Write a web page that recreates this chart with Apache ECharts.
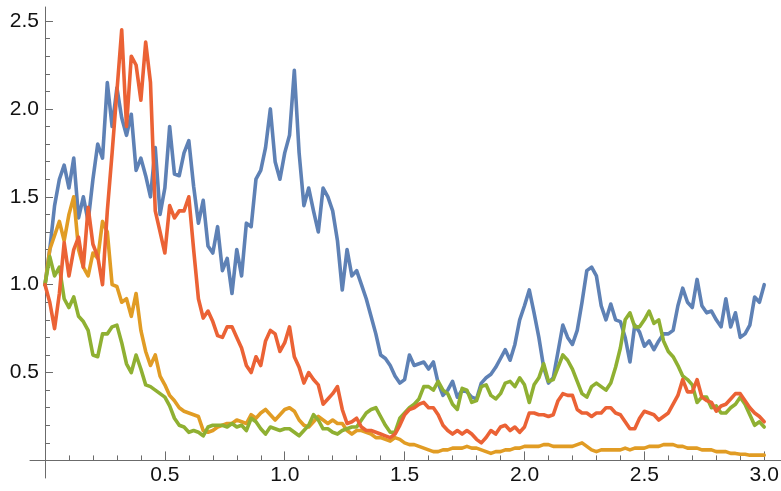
<!DOCTYPE html>
<html>
<head>
<meta charset="utf-8">
<script src="https://cdn.jsdelivr.net/npm/echarts@6/dist/echarts.min.js"></script>
<style>
  html, body { margin: 0; padding: 0; background: #fff; }
  #chart { width: 781px; height: 491px; }
</style>
</head>
<body>
<div id="chart"></div>
<script>
// Four sample paths sampled every 0.02 on t in [0, 3]
const step = 0.02;
const tValues = Array.from({ length: 151 }, (_, i) => Math.round(i * step * 100) / 100);

const pathBlue = [
  1.0, 1.2, 1.45, 1.6, 1.68, 1.55, 1.72, 1.38, 1.5, 1.36,
  1.6, 1.8, 1.72, 2.15, 1.9, 2.12, 1.95, 1.85, 1.97, 1.65,
  1.72, 1.62, 1.5, 1.78, 1.4, 1.55, 1.9, 1.63, 1.62, 1.75,
  1.82, 1.56, 1.35, 1.48, 1.22, 1.18, 1.33, 1.08, 1.15, 0.95,
  1.2, 1.05, 1.35, 1.33, 1.6, 1.65, 1.78, 2.0, 1.7, 1.6,
  1.75, 1.85, 2.22, 1.75, 1.45, 1.55, 1.42, 1.3, 1.55, 1.5,
  1.42, 1.25, 0.97, 1.2, 1.05, 1.08, 1.0, 0.92, 0.82, 0.72,
  0.6, 0.58, 0.54, 0.48, 0.44, 0.46, 0.6, 0.54, 0.55, 0.56,
  0.52, 0.56, 0.44, 0.37, 0.4, 0.45, 0.36, 0.4, 0.39, 0.36,
  0.35, 0.44, 0.47, 0.49, 0.53, 0.58, 0.63, 0.57, 0.66, 0.8,
  0.88, 0.97, 0.84, 0.7, 0.53, 0.44, 0.47, 0.62, 0.77, 0.7,
  0.66, 0.74, 0.9, 1.08, 1.1, 1.05, 0.88, 0.8, 0.89, 0.8,
  0.79, 0.7, 0.56, 0.77, 0.73, 0.65, 0.68, 0.63, 0.68, 0.72,
  0.72, 0.74, 0.88, 0.98, 0.9, 0.87, 1.03, 0.88, 0.84, 0.85,
  0.8, 0.76, 0.92, 0.76, 0.84, 0.7, 0.72, 0.77, 0.93, 0.9,
  1.0
];

const pathOrange = [
  1.0, 1.2, 1.28, 1.36, 1.25, 1.4, 1.5, 1.2, 1.1, 1.05,
  1.18, 1.15, 1.36, 1.3, 1.0, 0.99, 0.9, 0.92, 0.82, 0.95,
  0.74, 0.62, 0.54, 0.6, 0.48, 0.43, 0.37, 0.34, 0.3, 0.28,
  0.27, 0.26, 0.25, 0.17, 0.16, 0.17, 0.19, 0.2, 0.21, 0.21,
  0.23, 0.22, 0.21, 0.26, 0.24, 0.27, 0.29, 0.26, 0.23, 0.26,
  0.29, 0.3, 0.28, 0.23, 0.2, 0.19, 0.22, 0.25, 0.23, 0.21,
  0.23, 0.21, 0.21, 0.17, 0.15, 0.17, 0.17, 0.16, 0.15, 0.13,
  0.13, 0.12, 0.11, 0.13, 0.12, 0.1, 0.09, 0.09, 0.08, 0.07,
  0.06, 0.05, 0.05, 0.06, 0.06, 0.07, 0.07, 0.07, 0.08, 0.07,
  0.07, 0.06, 0.05, 0.04, 0.05, 0.05, 0.06, 0.06, 0.07, 0.07,
  0.08, 0.08, 0.08, 0.08, 0.09, 0.09, 0.08, 0.08, 0.08, 0.08,
  0.08, 0.09, 0.1, 0.08, 0.06, 0.05, 0.06, 0.06, 0.06, 0.06,
  0.06, 0.07, 0.06, 0.07, 0.07, 0.07, 0.08, 0.08, 0.08, 0.09,
  0.09, 0.09, 0.08, 0.08, 0.07, 0.07, 0.07, 0.06, 0.06, 0.06,
  0.05, 0.05, 0.05, 0.04, 0.04, 0.035, 0.035, 0.03, 0.03, 0.03,
  0.03
];

const pathGreen = [
  1.0, 1.16, 1.05, 1.1, 0.92, 0.87, 0.93, 0.82, 0.79, 0.74,
  0.6, 0.59, 0.72, 0.72, 0.76, 0.77, 0.67, 0.55, 0.5, 0.6,
  0.52, 0.43, 0.42, 0.4, 0.38, 0.36, 0.31, 0.24, 0.2, 0.19,
  0.16, 0.17, 0.16, 0.14, 0.19, 0.2, 0.2, 0.2, 0.19, 0.21,
  0.19, 0.2, 0.17, 0.24, 0.22, 0.18, 0.15, 0.19, 0.18, 0.17,
  0.18, 0.18, 0.16, 0.14, 0.17, 0.2, 0.26, 0.23, 0.18, 0.18,
  0.16, 0.15, 0.17, 0.18, 0.19, 0.19, 0.23, 0.27, 0.29, 0.3,
  0.25, 0.2, 0.16, 0.16, 0.24, 0.27, 0.3, 0.32, 0.35, 0.42,
  0.42, 0.4, 0.45, 0.4, 0.38, 0.32, 0.29, 0.41, 0.4, 0.33,
  0.34, 0.42, 0.43, 0.37, 0.35, 0.38, 0.44, 0.45, 0.42, 0.47,
  0.43, 0.33, 0.43, 0.47, 0.55, 0.45, 0.46, 0.53, 0.6, 0.57,
  0.52, 0.45, 0.38, 0.36, 0.42, 0.44, 0.42, 0.4, 0.44, 0.53,
  0.64, 0.8, 0.84, 0.76, 0.76, 0.8, 0.85, 0.78, 0.8, 0.68,
  0.62, 0.59, 0.54, 0.48, 0.46, 0.43, 0.33, 0.36, 0.36, 0.3,
  0.31, 0.27, 0.27, 0.3, 0.32, 0.36, 0.32, 0.26, 0.2, 0.22,
  0.19
];

const pathRed = [
  1.0, 0.9, 0.75, 0.95, 1.24, 1.05, 1.2, 1.27, 1.1, 1.44,
  1.23, 1.16, 1.0, 1.42, 1.75, 2.1, 2.45, 1.9, 2.3, 2.25,
  2.05, 2.38, 2.15, 1.42, 1.3, 1.18, 1.45, 1.38, 1.42, 1.42,
  1.5, 1.2, 0.92, 0.81, 0.85, 0.79, 0.71, 0.7, 0.76, 0.76,
  0.7, 0.64, 0.54, 0.5, 0.59, 0.54, 0.68, 0.74, 0.72, 0.62,
  0.67, 0.76, 0.59, 0.53, 0.44, 0.5, 0.46, 0.43, 0.32, 0.35,
  0.38, 0.42, 0.29, 0.21, 0.22, 0.24, 0.19, 0.17, 0.17, 0.16,
  0.15, 0.14, 0.13, 0.15, 0.2, 0.26, 0.29, 0.3, 0.32, 0.33,
  0.3, 0.3, 0.26, 0.2, 0.17, 0.15, 0.17, 0.15, 0.17, 0.15,
  0.12, 0.1, 0.13, 0.17, 0.15, 0.19, 0.2, 0.17, 0.19, 0.16,
  0.19, 0.27, 0.27, 0.26, 0.26, 0.25, 0.26, 0.34, 0.38, 0.37,
  0.37, 0.29, 0.27, 0.27, 0.25, 0.27, 0.27, 0.3, 0.3, 0.27,
  0.26, 0.22, 0.18, 0.18, 0.24, 0.28, 0.27, 0.26, 0.23, 0.25,
  0.27, 0.32, 0.37, 0.46, 0.39, 0.39, 0.46, 0.36, 0.34, 0.33,
  0.28, 0.31, 0.32, 0.35, 0.38, 0.38, 0.34, 0.3, 0.27, 0.25,
  0.22
];

// Tick positions
const xMajorTicks = [0.5, 1.0, 1.5, 2.0, 2.5, 3.0];
const xMinorTicks = [0.1, 0.2, 0.3, 0.4, 0.6, 0.7, 0.8, 0.9, 1.1, 1.2, 1.3, 1.4,
  1.6, 1.7, 1.8, 1.9, 2.1, 2.2, 2.3, 2.4, 2.6, 2.7, 2.8, 2.9];
const yMajorTicks = [0.5, 1.0, 1.5, 2.0, 2.5];
const yMinorTicks = [0.1, 0.2, 0.3, 0.4, 0.6, 0.7, 0.8, 0.9, 1.1, 1.2, 1.3, 1.4,
  1.6, 1.7, 1.8, 1.9, 2.1, 2.2, 2.3, 2.4];

const palette = ['#5E81B5', '#E19C24', '#8FB032', '#EB6235'];
const paths = [pathBlue, pathOrange, pathGreen, pathRed];

const axisColor = '#6b6b6b';
const labelFont = { fontSize: 21, fontFamily: '"Liberation Sans", Arial, Helvetica, sans-serif', color: '#111' };
const X_MIN = -0.0625, X_MAX = 3.07, Y_MIN = -0.1, Y_MAX = 2.58;

// Labels sit at the grid edge, so they are pulled in to hug the axes that cross at the origin
function xAxisDef(ticks, len, withLine, withLabels) {
  return {
    type: 'value', min: X_MIN, max: X_MAX, position: 'bottom',
    axisLine: { show: withLine, onZero: true, onZeroAxisIndex: 0, lineStyle: { color: axisColor, width: 1 } },
    axisTick: { show: true, inside: true, length: len, customValues: ticks, lineStyle: { color: axisColor, width: 1 } },
    axisLabel: withLabels ? Object.assign({
      show: true, margin: -13, customValues: xMajorTicks,
      formatter: v => v.toFixed(1)
    }, labelFont) : { show: false },
    splitLine: { show: false }
  };
}

function yAxisDef(ticks, len, withLine, withLabels) {
  return {
    type: 'value', min: Y_MIN, max: Y_MAX, position: 'left',
    axisLine: { show: withLine, onZero: true, onZeroAxisIndex: 0, lineStyle: { color: axisColor, width: 1 } },
    axisTick: { show: true, inside: true, length: len, customValues: ticks, lineStyle: { color: axisColor, width: 1 } },
    axisLabel: withLabels ? Object.assign({
      show: true, margin: -9, customValues: yMajorTicks,
      formatter: v => v.toFixed(1)
    }, labelFont) : { show: false },
    splitLine: { show: false }
  };
}

const chart = echarts.init(document.getElementById('chart'), null, { renderer: 'canvas' });
chart.setOption({
  animation: false,
  backgroundColor: '#fff',
  grid: { left: 30, right: 0, top: 7, bottom: 13, containLabel: false, outerBoundsMode: 'none' },
  xAxis: [
    xAxisDef(xMajorTicks, 9, true, true),
    xAxisDef(xMinorTicks, 5, false, false)
  ],
  yAxis: [
    yAxisDef(yMajorTicks, 8, true, true),
    yAxisDef(yMinorTicks, 5, false, false)
  ],
  series: paths.map((p, k) => ({
    type: 'line',
    xAxisIndex: 0,
    yAxisIndex: 0,
    data: tValues.map((t, i) => [t, p[i]]),
    showSymbol: false,
    symbol: 'none',
    smooth: false,
    clip: false,
    z: 2 + k,
    lineStyle: { color: palette[k], width: 3.6, join: 'round', cap: 'round' }
  }))
});
</script>
</body>
</html>
